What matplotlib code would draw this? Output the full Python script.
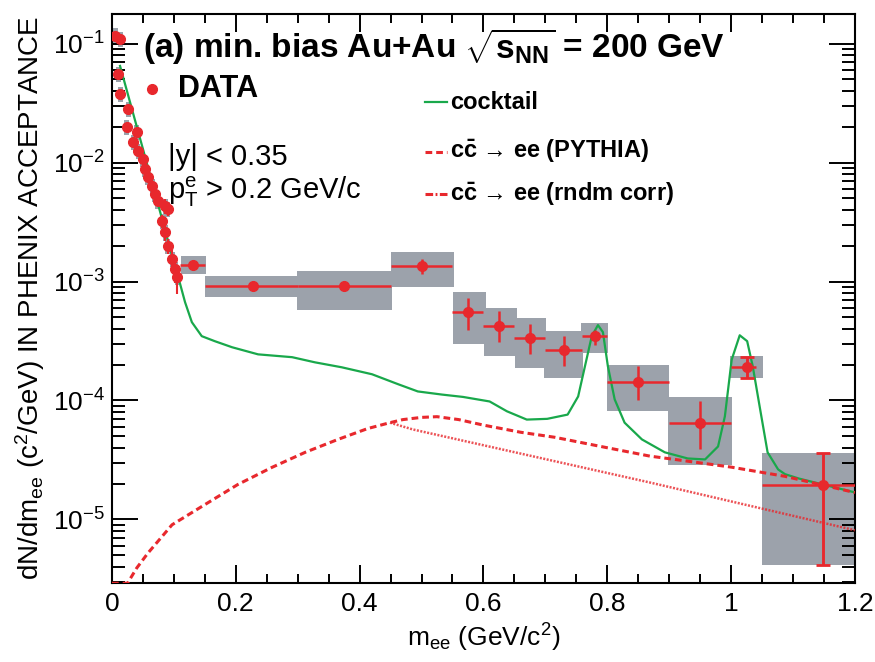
import numpy as np
import matplotlib
matplotlib.use('Agg')
from matplotlib import pyplot as plt
from matplotlib.ticker import FuncFormatter, MultipleLocator

plt.rcParams['font.family'] = ['Liberation Sans', 'DejaVu Sans']
plt.rcParams['mathtext.fontset'] = 'custom'
plt.rcParams['mathtext.rm'] = 'Liberation Sans'
plt.rcParams['mathtext.bf'] = 'Liberation Sans:bold'
plt.rcParams['mathtext.it'] = 'Liberation Sans:italic'

RED = '#e8282d'
GREEN = '#19a84b'
GRAY = '#9ca2ab'

# low mass data points
low_x = [0.005, 0.013, 0.010, 0.013, 0.026, 0.024, 0.040, 0.034, 0.042, 0.050, 0.053,
         0.058, 0.065, 0.069, 0.074, 0.086, 0.090, 0.081, 0.086, 0.090, 0.097, 0.102, 0.105]
low_y = [0.117, 0.110, 0.0558, 0.0379, 0.0283, 0.020, 0.0181, 0.0149, 0.01255, 0.01075, 0.00885,
         0.00758, 0.00637, 0.00545, 0.00475, 0.00431, 0.00407, 0.00323, 0.0026, 0.00199, 0.00155,
         0.00127, 0.00109]
low_err = [0.004, 0.004, 0.002, 0.0015, 0.001, 0.0008, 0.0007, 0.0006, 0.0005, 0.0004, 0.0004,
           0.0003, 0.0003, 0.0003, 0.0003, 0.0006, 0.0005, 0.0004, 0.0004, 0.0003, 0.0003,
           0.0003, 0.0003]

# higher mass bins
hm_x = [0.131, 0.228, 0.375, 0.500, 0.575, 0.625, 0.675, 0.730, 0.780, 0.850, 0.950, 1.025, 1.149]
hm_y = [1.37e-3, 9.1e-4, 9.1e-4, 1.35e-3, 5.5e-4, 4.2e-4, 3.33e-4, 2.64e-4, 3.47e-4, 1.42e-4,
        6.5e-5, 1.9e-4, 1.96e-5]
hm_lo = [0.11, 0.15, 0.30, 0.45, 0.55, 0.60, 0.65, 0.70, 0.76, 0.80, 0.90, 1.00, 1.05]
hm_hi = [0.15, 0.30, 0.45, 0.55, 0.60, 0.65, 0.70, 0.76, 0.80, 0.90, 1.00, 1.04, 1.20]
hm_ylo = [1.3e-3, 8.9e-4, 8.5e-4, 1.15e-3, 3.9e-4, 3.1e-4, 2.45e-4, 1.95e-4, 2.9e-4, 1.0e-4,
          3.9e-5, 1.55e-4, 4.1e-6]
hm_yhi = [1.44e-3, 9.3e-4, 9.8e-4, 1.56e-3, 7.3e-4, 5.6e-4, 4.4e-4, 3.47e-4, 3.9e-4, 1.95e-4,
          9.8e-5, 2.3e-4, 3.58e-5]
# systematic boxes
box_xlo = [0.111, 0.150, 0.299, 0.450, 0.551, 0.601, 0.651, 0.698, 0.757, 0.800, 0.898, 0.998, 1.050]
box_xhi = [0.152, 0.299, 0.452, 0.553, 0.604, 0.654, 0.701, 0.761, 0.801, 0.900, 1.001, 1.051, 1.200]
box_ylo = [1.15e-3, 7.4e-4, 5.75e-4, 8.97e-4, 3.0e-4, 2.35e-4, 1.86e-4, 1.53e-4, 2.49e-4, 8.1e-5,
           2.84e-5, 1.53e-4, 4.16e-6]
box_yhi = [1.64e-3, 1.11e-3, 1.22e-3, 1.77e-3, 8.1e-4, 5.97e-4, 4.9e-4, 3.82e-4, 4.47e-4, 2.0e-4,
           1.06e-4, 2.35e-4, 3.58e-5]

# cocktail curve
ck_x = [0.013, 0.05, 0.10, 0.1066, 0.118, 0.129, 0.145, 0.166, 0.194, 0.236, 0.291, 0.328,
        0.371, 0.420, 0.462, 0.494, 0.533, 0.567, 0.61, 0.638, 0.67, 0.703, 0.736, 0.753,
        0.764, 0.775, 0.785, 0.793, 0.801, 0.812, 0.828, 0.856, 0.893, 0.930, 0.958, 0.979,
        0.990, 1.001, 1.014, 1.026, 1.035, 1.047, 1.059, 1.076, 1.087, 1.11, 1.197]
ck_y = [0.065, 0.013, 1.45e-3, 1.11e-3, 6.7e-4, 4.55e-4, 3.47e-4, 3.15e-4, 2.8e-4, 2.44e-4,
        2.31e-4, 2.09e-4, 1.9e-4, 1.66e-4, 1.37e-4, 1.19e-4, 1.12e-4, 1.07e-4, 9.8e-5, 8.1e-5,
        6.9e-5, 7.0e-5, 7.6e-5, 1.08e-4, 1.94e-4, 3.47e-4, 4.3e-4, 3.75e-4, 1.94e-4, 1.02e-4,
        6.5e-5, 4.7e-5, 3.66e-5, 3.25e-5, 3.19e-5, 4.1e-5, 7.35e-5, 2.2e-4, 3.53e-4, 3.15e-4,
        1.94e-4, 8.4e-5, 3.66e-5, 2.63e-5, 2.4e-5, 2.2e-5, 1.7e-5]

# c cbar -> ee (PYTHIA)
py_x = [0.0, 0.025, 0.04, 0.058, 0.097, 0.150, 0.203, 0.258, 0.312, 0.365, 0.413, 0.449,
        0.47, 0.50, 0.525, 0.56, 0.60, 0.66, 0.715, 0.80, 0.869, 0.917, 1.0, 1.087, 1.2]
py_y = [2.9e-6, 2.9e-6, 3.9e-6, 5.2e-6, 9.0e-6, 1.33e-5, 1.96e-5, 2.73e-5, 3.66e-5, 4.7e-5,
        5.8e-5, 6.5e-5, 6.9e-5, 7.2e-5, 7.3e-5, 6.9e-5, 6.2e-5, 5.4e-5, 4.9e-5, 4.0e-5,
        3.4e-5, 3.15e-5, 2.75e-5, 2.3e-5, 1.68e-5]

# c cbar -> ee (random correlation)
rc_x = [0.449, 0.486, 0.869, 1.2]
rc_y = [6.5e-5, 5.7e-5, 2.04e-5, 8.1e-6]

fig = plt.figure(figsize=(8.75, 6.62), dpi=100)
ax = fig.add_axes([0.128, 0.120, 0.849, 0.859])

# sys boxes
ax.bar(box_xlo, np.array(box_yhi) - np.array(box_ylo), bottom=box_ylo,
       width=np.array(box_xhi) - np.array(box_xlo), align='edge', color=GRAY, lw=0, zorder=1)
ly = np.array(low_y)
ax.bar(np.array(low_x) - 0.004, ly * 0.3, bottom=ly * 0.85, width=0.008, align='edge',
       color=GRAY, lw=0, zorder=1)

dash = (0, (2.2, 1.3))
dashdot = (0, (2.5, 0.8, 0.6, 0.8))
ax.plot(ck_x, ck_y, color=GREEN, lw=1.6, zorder=3)
ax.plot(py_x, py_y, color=RED, lw=2.2, ls=dash, zorder=3)
ax.plot(rc_x, rc_y, color=RED, lw=1.8, ls=(0, (0.8, 0.6)), alpha=0.8, zorder=3)

# data
ax.errorbar(low_x, low_y, yerr=low_err, fmt='o', color=RED, ms=7, lw=1.5, capsize=0, zorder=4)
hx = np.array(hm_x)
hy = np.array(hm_y)
ax.errorbar(hx, hy, xerr=[hx - np.array(hm_lo), np.array(hm_hi) - hx],
            yerr=[hy - np.array(hm_ylo), np.array(hm_yhi) - hy],
            fmt='o', color=RED, ms=7, lw=1.8, capsize=0, zorder=4)
cap_idx = [11, 12]
ax.errorbar(hx[cap_idx], hy[cap_idx],
            yerr=[hy[cap_idx] - np.array(hm_ylo)[cap_idx], np.array(hm_yhi)[cap_idx] - hy[cap_idx]],
            fmt='none', ecolor=RED, lw=1.8, capsize=5, capthick=2, zorder=4)

ax.set_yscale('log')
ax.set_xlim(0, 1.2)
ax.set_ylim(2.94e-6, 0.178)
ax.xaxis.set_major_locator(MultipleLocator(0.2))
ax.xaxis.set_minor_locator(MultipleLocator(0.05))
ax.xaxis.set_major_formatter(FuncFormatter(lambda v, p: '%g' % v))
ax.tick_params(which='both', direction='in', top=True, right=True, width=1.4, labelsize=19)
ax.tick_params(axis='x', which='major', length=13, pad=7)
ax.tick_params(axis='x', which='minor', length=6.5)
ax.tick_params(axis='y', which='major', length=19, pad=5)
ax.tick_params(axis='y', which='minor', length=9.5)
ax.yaxis.set_minor_formatter(plt.NullFormatter())
for s in ax.spines.values():
    s.set_linewidth(1.5)

ax.set_xlabel(r'm$_{\mathrm{ee}}$ (GeV/c$^2$)', fontsize=19, labelpad=4)
ax.set_ylabel(r'dN/dm$_{\mathrm{ee}}$ (c$^2$/GeV) IN PHENIX ACCEPTANCE', fontsize=20, labelpad=4)

ax.text(0.042, 0.942, r'(a) min. bias Au+Au $\mathbf{\sqrt{s_{NN}}}$ = 200 GeV',
        transform=ax.transAxes, fontsize=24, fontweight='bold', va='center', ha='left', zorder=6)
ax.text(0.075, 0.748, '|y| < 0.35', transform=ax.transAxes, fontsize=21, va='center', zorder=6)
ax.text(0.075, 0.688, r'p$_{\mathrm{T}}^{\mathrm{e}}$ > 0.2 GeV/c', transform=ax.transAxes,
        fontsize=21, va='center', zorder=6)

# DATA key
ax.plot([0.054], [0.868], 'o', color=RED, ms=7, transform=ax.transAxes, clip_on=False)
ax.text(0.089, 0.868, 'DATA', transform=ax.transAxes, fontsize=22, fontweight='bold',
        va='center', zorder=6)

# line keys
key_y = [0.845, 0.758, 0.683]
key_lab = ['cocktail', r'c$\mathbf{\bar{c}}$ → ee (PYTHIA)', r'c$\mathbf{\bar{c}}$ → ee (rndm corr)']
key_sty = [dict(color=GREEN, lw=1.6), dict(color=RED, lw=2.2, ls=dash),
           dict(color=RED, lw=2.2, ls=dashdot)]
for yk, lab, sty in zip(key_y, key_lab, key_sty):
    ax.plot([0.421, 0.451], [yk, yk], transform=ax.transAxes, **sty)
    ax.text(0.455, yk, lab, transform=ax.transAxes, fontsize=17, fontweight='bold', va='center')

fig.savefig('out.png', dpi=100)
